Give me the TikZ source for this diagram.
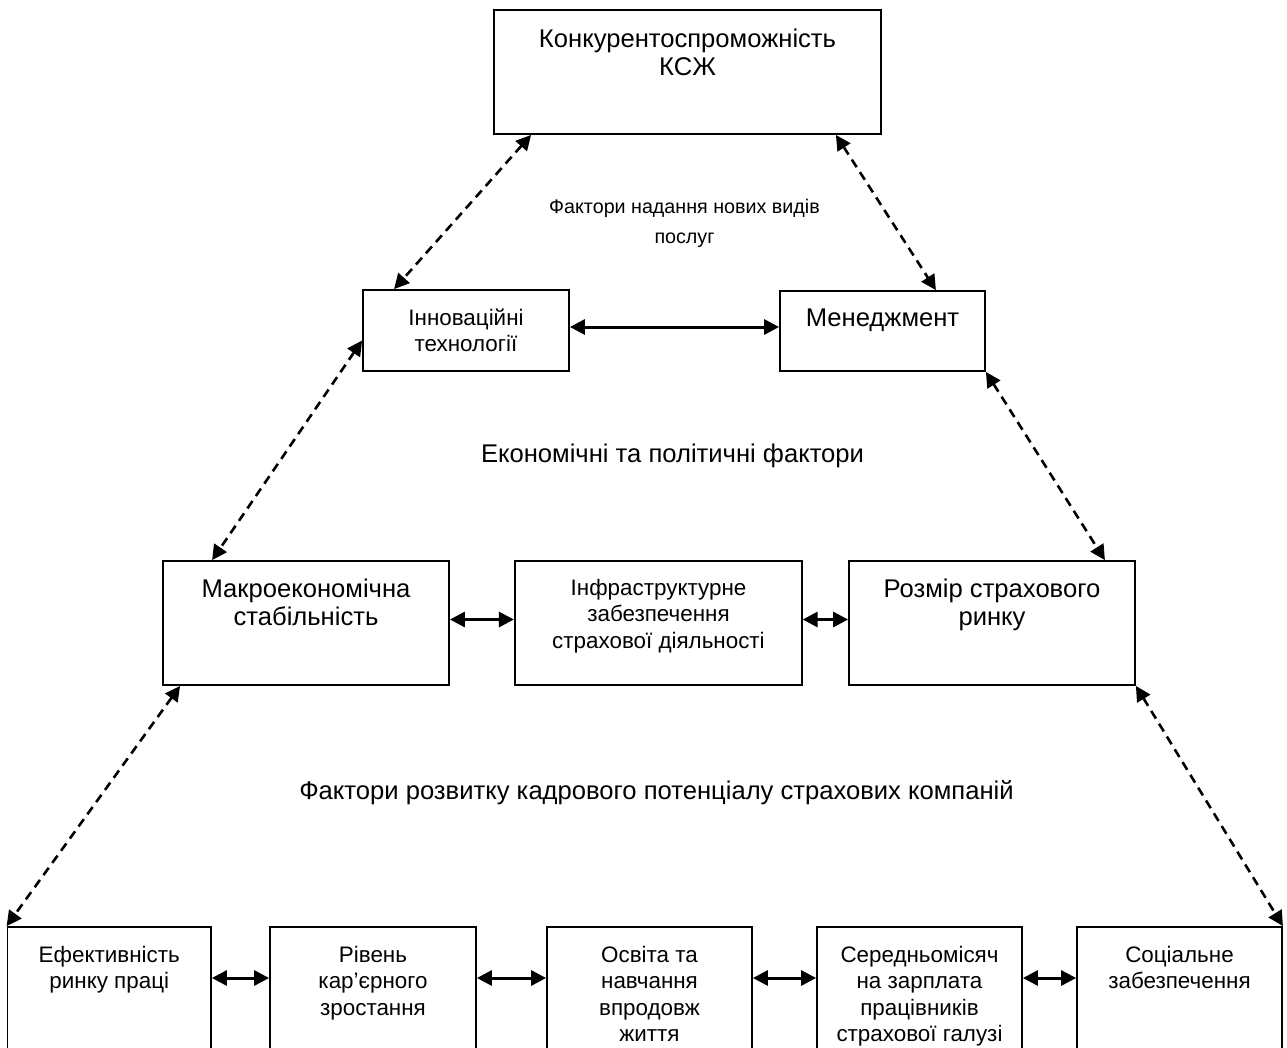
\documentclass[tikz,border=0pt]{standalone}
\usepackage{fontspec}
\setmainfont{Liberation Sans}
\usetikzlibrary{arrows.meta}
\tikzset{
  box/.style={draw=black, line width=1.8pt, fill=white, inner sep=0pt},
  bigtext/.style={inner sep=0pt, align=center, anchor=north, font=\fontsize{25.6}{28.7}\selectfont},
  smalltext/.style={inner sep=0pt, align=center, anchor=north, font=\fontsize{22.4}{26.4}\selectfont},
  dasharrow/.style={line width=2.6pt, dash pattern=on 9pt off 6pt, {Triangle[length=15pt,width=15pt]}-{Triangle[length=15pt,width=15pt]}},
  solidarrow/.style={line width=3pt, {Triangle[length=15pt,width=15pt]}-{Triangle[length=15pt,width=15pt]}}
}
\newcommand{\st}[1]{\rule{0pt}{#1pt}}
\begin{document}
\begin{tikzpicture}[x=1pt,y=-1pt]
\useasboundingbox (0,0) rectangle (1287,1047);
\clip (0,0) rectangle (1287,1047);
\fill[white] (0,0) rectangle (1287,1047);
% boxes
\node[box, minimum width=387pt, minimum height=124pt] (top) at (687.5,72) {};
\node[box, minimum width=206pt, minimum height=81pt] (innov) at (466,330.5) {};
\node[box, minimum width=205pt, minimum height=80pt] (mgmt) at (882.5,331) {};
\node[box, minimum width=286pt, minimum height=124pt] (macro) at (306,623) {};
\node[box, minimum width=287pt, minimum height=124pt] (infra) at (658.3,623) {};
\node[box, minimum width=286pt, minimum height=124pt] (rozmir) at (992,623) {};
\node[box, minimum width=203.5pt, minimum height=133pt] (b1) at (109.25,993.5) {};
\node[box, minimum width=206pt, minimum height=133pt] (b2) at (373,993.5) {};
\node[box, minimum width=205pt, minimum height=133pt] (b3) at (649.5,993.5) {};
\node[box, minimum width=205pt, minimum height=133pt] (b4) at (919.5,993.5) {};
\node[box, minimum width=205pt, minimum height=133pt] (b5) at (1179.5,993.5) {};
% texts
\node[bigtext] (ttop) at (687.5,21.4) {\st{25.6}Конкурентоспроможність\\КСЖ};
\node[smalltext] (tinnov) at (466,302.6) {\st{22.4}Інноваційні\\технології};
\node[bigtext] (tmgmt) at (882.5,300.4) {\st{25.6}Менеджмент};
\node[bigtext] (tmacro) at (306,571.4) {\st{25.6}Макроекономічна\\стабільність};
\node[smalltext] (tinfra) at (658.5,572.6) {\st{22.4}Інфраструктурне\\забезпечення\\страхової діяльності};
\node[bigtext] (trozmir) at (992,571.4) {\st{25.6}Розмір страхового\\ринку};
\node[smalltext] (tb1) at (109.25,939.6) {\st{22.4}Ефективність\\ринку праці};
\node[smalltext] (tb2) at (373,939.6) {\st{22.4}Рівень\\кар’єрного\\зростання};
\node[smalltext] (tb3) at (649.5,939.6) {\st{22.4}Освіта та\\навчання\\впродовж\\життя};
\node[smalltext] (tb4) at (919.5,939.6) {\st{22.4}Середньомісяч\\на зарплата\\працівників\\страхової галузі};
\node[smalltext] (tb5) at (1179.5,939.6) {\st{22.4}Соціальне\\забезпечення};
% labels
\node[inner sep=0pt, align=center, anchor=north, font=\fontsize{19.7}{30}\selectfont] (lab1) at (684.5,193.6) {\st{19.7}Фактори надання нових видів\\послуг};
\node[bigtext] (lab2) at (672.5,436.6) {\st{25.6}Економічні та політичні фактори};
\node[bigtext] (lab3) at (656.5,773.4) {\st{25.6}Фактори розвитку кадрового потенціалу страхових компаній};
% helper coordinate for bottom row arrows
\coordinate (arow) at (0,978);
% dashed connectors
\draw[dasharrow] ([xshift=38pt]top.south west) -- ([xshift=32pt]innov.north west);
\draw[dasharrow] ([xshift=-46pt]top.south east) -- ([xshift=-50pt]mgmt.north east);
\draw[dasharrow] ([yshift=-10pt]innov.west) -- ([xshift=50pt]macro.north west);
\draw[dasharrow] (mgmt.south east) -- ([xshift=-31pt]rozmir.north east);
\draw[dasharrow] ([xshift=18pt]macro.south west) -- (b1.north west);
\draw[dasharrow] (rozmir.south east) -- (b5.north east);
% solid connectors
\draw[solidarrow] ([yshift=3.5pt]innov.east) -- ([yshift=3.5pt]innov.east -| mgmt.west);
\draw[solidarrow] ([yshift=3.5pt]macro.east) -- ([yshift=3.5pt]macro.east -| infra.west);
\draw[solidarrow] ([yshift=3.5pt]infra.east) -- ([yshift=3.5pt]infra.east -| rozmir.west);
\draw[solidarrow] (b1.east |- arow) -- (b2.west |- arow);
\draw[solidarrow] (b2.east |- arow) -- (b3.west |- arow);
\draw[solidarrow] (b3.east |- arow) -- (b4.west |- arow);
\draw[solidarrow] (b4.east |- arow) -- (b5.west |- arow);
\end{tikzpicture}
\end{document}
